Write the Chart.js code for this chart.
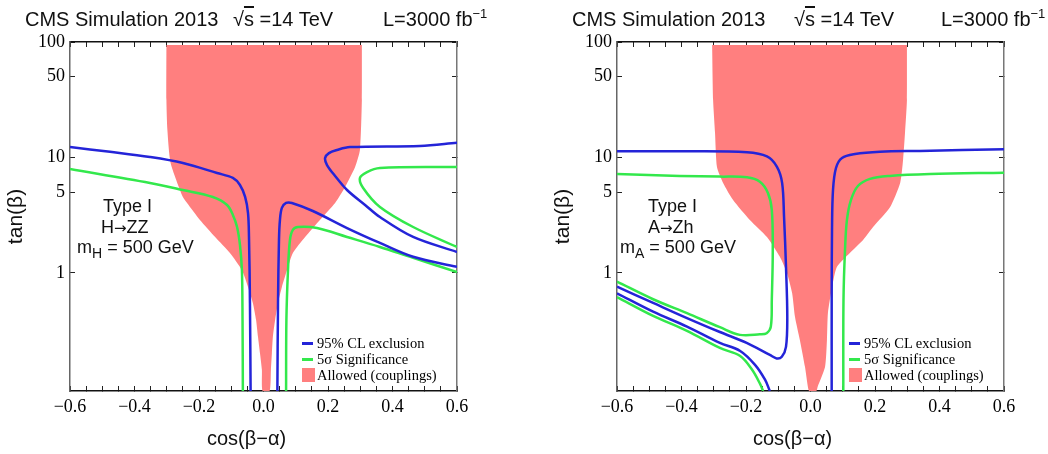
<!DOCTYPE html>
<html>
<head>
<meta charset="utf-8">
<script src="https://cdn.jsdelivr.net/npm/chart.js@4.4.0/dist/chart.umd.min.js"></script>
<style>
    body { margin: 0; background: #fff; }
    #wrap { position: relative; width: 1048px; height: 454px; overflow: hidden; font-family: "Liberation Sans", Arial, sans-serif; color: #111; }
    canvas { position: absolute; top: 0; }
    #hzz-chart { left: 0; }
    #azh-chart { left: 524px; }
    .txt { position: absolute; white-space: nowrap; }
    .head { font-size: 20px; line-height: 20px; top: 9px; }
    .head sup { font-size: 13px; vertical-align: 8px; line-height: 0; }
    .ovl { text-decoration: overline; }
    .note { font-size: 18px; line-height: 18px; }
    .note sub { font-size: 14px; vertical-align: -5px; line-height: 0; }
    .arrow { font-family: "DejaVu Sans", sans-serif; font-size: 15px; }
    .xtitle { font-size: 20px; line-height: 20px; top: 428px; }
    .leg { position: absolute; height: 16px; display: flex; align-items: center; font-family: "Liberation Serif", serif; font-size: 14.5px; white-space: nowrap; color: #000; }
    .leg .dash { display: inline-block; width: 11px; height: 3px; margin-right: 4px; }
    .leg .box { display: inline-block; width: 13px; height: 14px; margin-right: 2px; }
</style>
</head>
<body>
<div id="wrap">
    <canvas id="hzz-chart" width="524" height="454"></canvas>
    <canvas id="azh-chart" width="524" height="454"></canvas>

    <div class="txt head" style="left:25px">CMS Simulation 2013</div>
    <div class="txt head" style="left:233px">√<span class="ovl">s</span> =14 TeV</div>
    <div class="txt head" style="left:383px">L=3000 fb<sup>−1</sup></div>
    <div class="txt head" style="left:572px">CMS Simulation 2013</div>
    <div class="txt head" style="left:794px">√<span class="ovl">s</span> =14 TeV</div>
    <div class="txt head" style="left:941px">L=3000 fb<sup>−1</sup></div>

    <div class="txt note" style="left:103px; top:197px">Type I</div>
    <div class="txt note" style="left:101px; top:218px">H<span class="arrow">→</span>ZZ</div>
    <div class="txt note" style="left:77px; top:238px">m<sub>H</sub> = 500 GeV</div>
    <div class="txt note" style="left:648px; top:197px">Type I</div>
    <div class="txt note" style="left:648px; top:218px">A<span class="arrow">→</span>Zh</div>
    <div class="txt note" style="left:620px; top:238px">m<sub>A</sub> = 500 GeV</div>

    <div class="txt xtitle" style="left:207px">cos(β−α)</div>
    <div class="txt xtitle" style="left:753px">cos(β−α)</div>

    <div class="leg" style="left:302px; top:335px"><span class="dash" style="background:#2424d8"></span>95% CL exclusion</div>
    <div class="leg" style="left:302px; top:351px"><span class="dash" style="background:#33e84c"></span>5σ Significance</div>
    <div class="leg" style="left:302px; top:367px"><span class="box" style="background:#ff7f7f"></span>Allowed (couplings)</div>
    <div class="leg" style="left:849px; top:335px"><span class="dash" style="background:#2424d8"></span>95% CL exclusion</div>
    <div class="leg" style="left:849px; top:351px"><span class="dash" style="background:#33e84c"></span>5σ Significance</div>
    <div class="leg" style="left:849px; top:367px"><span class="box" style="background:#ff7f7f"></span>Allowed (couplings)</div>
</div>
<script>
// axes
const xMin = -0.6;
const xMax = 0.6;
const yMin = 0.095;
const yMax = 100;
const xLabelValues = [-0.6, -0.4, -0.2, 0.0, 0.2, 0.4, 0.6];
const xTickLabels = ['\u22120.6', '\u22120.4', '\u22120.2', '0.0', '0.2', '0.4', '0.6'];
const yTickValues = [1, 5, 10, 50, 100];

// H -> ZZ panel, [cos(b-a), tan(b)]
const hzzAllowed = [[-0.301, 94], [-0.301, 31.5], [-0.298, 17.3], [-0.288, 8.96], [-0.25, 4.55], [-0.237, 4.04],
    [-0.197, 2.88], [-0.15, 2.05], [-0.104, 1.49], [-0.067, 1.06], [-0.048, 0.757], [-0.033, 0.55], [-0.023, 0.392],
    [-0.017, 0.279], [-0.011, 0.203], [-0.005, 0.145], [-0.003, 0.095], [0.019, 0.095], [0.023, 0.145], [0.026, 0.203],
    [0.029, 0.279], [0.036, 0.392], [0.045, 0.55], [0.057, 0.757], [0.073, 1.06], [0.091, 1.49], [0.129, 2.05],
    [0.175, 2.88], [0.222, 4.04], [0.253, 5.55], [0.284, 8.27], [0.299, 11.6], [0.305, 31.5], [0.305, 94]];
const hzzExclLeft = [[-0.6, 12.3], [-0.476, 11.2], [-0.352, 10.1], [-0.25, 8.96], [-0.144, 7.34], [-0.095, 6.65],
    [-0.073, 5.78], [-0.057, 4.55], [-0.048, 3.3], [-0.045, 2.05], [-0.042, 0.55], [-0.04, 0.095]];
const hzzExclRight = [[0.043, 0.095], [0.045, 0.55], [0.048, 1.93], [0.051, 2.88], [0.057, 3.66], [0.07, 4.04],
    [0.088, 4.04], [0.153, 3.44], [0.259, 2.45], [0.361, 1.82], [0.464, 1.38], [0.6, 1.13]];
const hzzExclLoop = [[0.6, 13.4], [0.485, 12.6], [0.268, 12.3], [0.228, 11.6], [0.203, 10.9], [0.191, 9.9],
    [0.197, 8.6], [0.222, 6.92], [0.259, 5.23], [0.315, 3.88], [0.361, 3.05], [0.464, 2.05], [0.6, 1.52]];
const hzzSigLeft = [[-0.6, 7.95], [-0.352, 6.02], [-0.25, 5.23], [-0.157, 4.55], [-0.113, 3.88], [-0.095, 3.18],
    [-0.082, 2.5], [-0.073, 1.75], [-0.067, 1.06], [-0.065, 0.392], [-0.064, 0.095]];
const hzzSigRight = [[0.07, 0.095], [0.071, 0.392], [0.076, 1.06], [0.082, 1.93], [0.091, 2.36], [0.107, 2.5],
    [0.166, 2.45], [0.259, 2.05], [0.361, 1.68], [0.464, 1.35], [0.6, 1.02]];
const hzzSigLoop = [[0.6, 8.27], [0.361, 8.11], [0.321, 7.48], [0.299, 6.65], [0.309, 5.45], [0.361, 3.73],
    [0.464, 2.5], [0.6, 1.68]];

// A -> Zh panel
const azhAllowed = [[-0.305, 94], [-0.302, 31.5], [-0.296, 16.3], [-0.29, 8.27], [-0.271, 6.02], [-0.24, 4.29],
    [-0.188, 2.88], [-0.135, 2.05], [-0.095, 1.38], [-0.073, 1.0], [-0.057, 0.671], [-0.048, 0.416], [-0.033, 0.263],
    [-0.017, 0.153], [-0.008, 0.103], [-0.004, 0.095], [0.018, 0.095], [0.022, 0.103], [0.045, 0.153], [0.051, 0.263],
    [0.054, 0.451], [0.067, 0.757], [0.082, 1.13], [0.122, 1.49], [0.163, 1.93], [0.194, 2.5], [0.247, 3.73],
    [0.278, 6.02], [0.287, 9.5], [0.293, 16.3], [0.299, 31.5], [0.299, 94]];
const azhExclLeft = [[-0.6, 11.3], [-0.405, 11.3], [-0.197, 11.1], [-0.135, 10.2], [-0.104, 8.3], [-0.088, 6.02],
    [-0.082, 3.05], [-0.076, 1.13], [-0.072, 0.416], [-0.076, 0.229], [-0.089, 0.188], [-0.105, 0.182],
    [-0.126, 0.195], [-0.198, 0.248], [-0.281, 0.308], [-0.383, 0.407], [-0.488, 0.55], [-0.6, 0.76]];
const azhExclLower = [[-0.6, 0.667], [-0.488, 0.462], [-0.383, 0.343], [-0.281, 0.248], [-0.218, 0.211],
    [-0.172, 0.16], [-0.141, 0.119], [-0.126, 0.095]];
const azhExclRight = [[0.0657, 0.095], [0.0657, 0.584], [0.0667, 2.36], [0.0698, 5.23], [0.079, 8.11],
    [0.0977, 9.9], [0.138, 10.7], [0.2155, 11.2], [0.3395, 11.4], [0.6, 11.8]];
const azhSigLoop = [[-0.6, 7.19], [-0.405, 6.92], [-0.281, 6.83], [-0.197, 6.74], [-0.157, 6.17], [-0.132, 4.93],
    [-0.12, 3.51], [-0.117, 1.58], [-0.12, 0.584], [-0.123, 0.343], [-0.136, 0.301], [-0.157, 0.294],
    [-0.219, 0.291], [-0.281, 0.339], [-0.383, 0.448], [-0.488, 0.592], [-0.6, 0.842]];
const azhSigLower = [[-0.6, 0.619], [-0.488, 0.425], [-0.383, 0.315], [-0.281, 0.224], [-0.218, 0.191],
    [-0.181, 0.145], [-0.156, 0.109], [-0.147, 0.095]];
const azhSigRight = [[0.1017, 0.095], [0.1023, 0.584], [0.107, 1.58], [0.113, 2.88], [0.1256, 4.29], [0.147, 5.66],
    [0.1845, 6.52], [0.2465, 6.92], [0.3705, 7.19], [0.6, 7.38]];

const colors = { exclusion: '#2424d8', significance: '#33e84c', allowed: '#ff7f7f' };
const tickFont = { family: '"Liberation Serif", serif', size: 18 };

function toPoints(list) {
    return list.map((p) => ({ x: p[0], y: p[1] }));
}

function curve(list, color) {
    return {
        data: toPoints(list),
        borderColor: color,
        borderWidth: 2.5,
        pointRadius: 0,
        tension: 0.35,
        fill: false
    };
}

function region(list, color) {
    return {
        data: toPoints(list),
        borderColor: color,
        backgroundColor: color,
        borderWidth: 0,
        pointRadius: 0,
        tension: 0.2,
        fill: 'shape'
    };
}

function xLabel(value) {
    const idx = xLabelValues.findIndex((v) => Math.abs(v - value) < 1e-6);
    return idx >= 0 ? xTickLabels[idx] : '';
}

function drawPanel(canvasId, datasets, padLeft, padRight) {
    const frameTicks = { display: true, drawOnChartArea: false, drawTicks: true, tickLength: -5, tickColor: '#222', tickWidth: 1 };

    const chartConfig = {
        type: 'line',
        data: { datasets: datasets },
        options: {
            responsive: false,
            animation: false,
            layout: { padding: { left: padLeft, right: padRight, top: 42, bottom: 0 } },
            plugins: { legend: { display: false }, tooltip: { enabled: false } },
            scales: {
                x: {
                    type: 'linear', position: 'bottom', min: xMin, max: xMax,
                    ticks: { stepSize: 0.05, maxTicksLimit: 100, autoSkip: false, maxRotation: 0,
                        callback: (v) => xLabel(v), font: tickFont, color: '#000', padding: 10 },
                    grid: frameTicks,
                    border: { display: true, color: '#111', width: 1.5 },
                    afterFit: (s) => { s.height = 63; }
                },
                xTop: {
                    type: 'linear', position: 'top', min: xMin, max: xMax,
                    ticks: { display: false, stepSize: 0.05, maxTicksLimit: 100 },
                    grid: frameTicks,
                    border: { display: true, color: '#111', width: 1.5 },
                    afterFit: (s) => { s.height = 0; }
                },
                y: {
                    type: 'logarithmic', position: 'left', min: yMin, max: yMax,
                    afterBuildTicks: (s) => { s.ticks = yTickValues.map((v) => ({ value: v })); },
                    ticks: { autoSkip: false, callback: (v) => String(v), font: tickFont, color: '#000', padding: 10 },
                    grid: frameTicks,
                    border: { display: true, color: '#666', width: 1.5 },
                    title: { display: true, text: 'tan(β)', color: '#111',
                        font: { family: '"Liberation Sans", Arial, sans-serif', size: 21 }, padding: { top: 4, bottom: 0 } },
                    afterFit: (s) => { s.width = 70; }
                },
                yRight: {
                    type: 'logarithmic', position: 'right', min: yMin, max: yMax,
                    afterBuildTicks: (s) => { s.ticks = yTickValues.map((v) => ({ value: v })); },
                    ticks: { display: false },
                    grid: frameTicks,
                    border: { display: true, color: '#777', width: 1.5 },
                    afterFit: (s) => { s.width = 0; }
                }
            }
        }
    };

    const canvas = document.getElementById(canvasId);
    if (canvas) {
        new Chart(canvas, chartConfig);
    }
}

drawPanel('hzz-chart', [
    curve(hzzExclLeft, colors.exclusion),
    curve(hzzExclRight, colors.exclusion),
    curve(hzzExclLoop, colors.exclusion),
    curve(hzzSigLeft, colors.significance),
    curve(hzzSigRight, colors.significance),
    curve(hzzSigLoop, colors.significance),
    region(hzzAllowed, colors.allowed)
], 0, 67);

drawPanel('azh-chart', [
    curve(azhExclLeft, colors.exclusion),
    curve(azhExclLower, colors.exclusion),
    curve(azhExclRight, colors.exclusion),
    curve(azhSigLoop, colors.significance),
    curve(azhSigLower, colors.significance),
    curve(azhSigRight, colors.significance),
    region(azhAllowed, colors.allowed)
], 23, 44);
</script>
</body>
</html>
